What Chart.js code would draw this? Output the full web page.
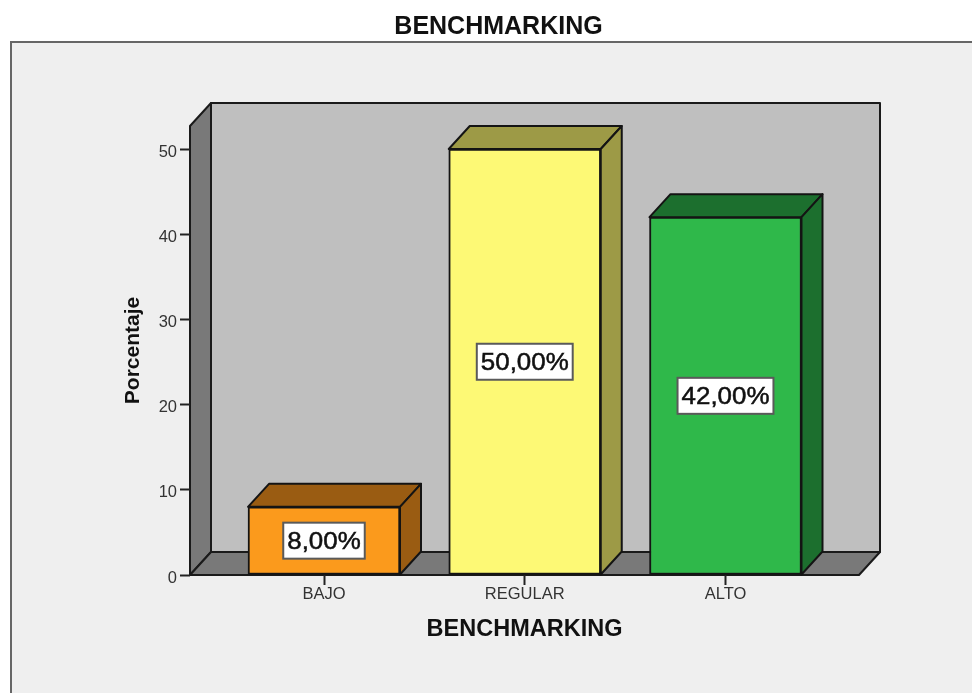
<!DOCTYPE html>
<html>
<head>
<meta charset="utf-8">
<title>BENCHMARKING</title>
<style>
  html, body { margin: 0; padding: 0; background: #fff; }
  #wrap { position: relative; width: 972px; height: 693px; }
</style>
<script src="https://cdn.jsdelivr.net/npm/chart.js@4"></script>
</head>
<body>
<div id="wrap"><canvas id="benchChart"></canvas></div>
<script>
const categorias = ['BAJO', 'REGULAR', 'ALTO'];
const porcentajes = [8, 50, 42];
const yTicks = [0, 10, 20, 30, 40, 50];
const coloresFrente = ['#fb9a1c', '#fdf975', '#2fb84a'];
const coloresLado = ['#9a5c12', '#9d9a46', '#1c6f2e'];

const FUENTE = '"Liberation Sans", Arial, sans-serif';
const PROF_X = 21;   // profundidad del efecto 3D
const PROF_Y = 23;

function poligono(ctx, puntos, relleno, borde, grosor) {
    ctx.beginPath();
    puntos.forEach((p, i) => i ? ctx.lineTo(p[0], p[1]) : ctx.moveTo(p[0], p[1]));
    ctx.closePath();
    ctx.fillStyle = relleno;
    ctx.fill();
    ctx.strokeStyle = borde;
    ctx.lineWidth = grosor;
    ctx.lineJoin = 'round';
    ctx.stroke();
}

const fondo3d = {
    id: 'fondo3d',
    beforeDraw(chart) {
        const { ctx, width, height } = chart;
        const { left, right, top, bottom } = chart.chartArea;
        ctx.save();
        // panel gris
        ctx.fillStyle = '#efefef';
        ctx.fillRect(11, 42, width - 11, height - 42);
        ctx.strokeStyle = '#666';
        ctx.lineWidth = 2;
        ctx.beginPath();
        ctx.moveTo(11, height);
        ctx.lineTo(11, 42);
        ctx.lineTo(width, 42);
        ctx.stroke();
        // pared del fondo, pared izquierda y piso
        const borde = '#1a1a1a';
        poligono(ctx, [[left + PROF_X, top - PROF_Y], [right + PROF_X, top - PROF_Y],
            [right + PROF_X, bottom - PROF_Y], [left + PROF_X, bottom - PROF_Y]], '#bfbfbf', borde, 2);
        poligono(ctx, [[left, top], [left + PROF_X, top - PROF_Y],
            [left + PROF_X, bottom - PROF_Y], [left, bottom]], '#797979', borde, 2);
        poligono(ctx, [[left, bottom], [left + PROF_X, bottom - PROF_Y],
            [right + PROF_X, bottom - PROF_Y], [right, bottom]], '#797979', borde, 2);
        ctx.restore();
    },
    beforeDatasetsDraw(chart) {
        const { ctx } = chart;
        const barras = chart.getDatasetMeta(0).data;
        ctx.save();
        barras.forEach((b, i) => {
            const x0 = b.x - b.width / 2;
            const x1 = b.x + b.width / 2;
            const color = coloresLado[i];
            poligono(ctx, [[x0, b.y], [x0 + PROF_X, b.y - PROF_Y], [x1 + PROF_X, b.y - PROF_Y], [x1, b.y]],
                color, '#141414', 2);
            poligono(ctx, [[x1, b.y], [x1 + PROF_X, b.y - PROF_Y], [x1 + PROF_X, b.base - PROF_Y], [x1, b.base]],
                color, '#141414', 2);
        });
        ctx.restore();
    },
    afterDatasetsDraw(chart) {
        const { ctx } = chart;
        const barras = chart.getDatasetMeta(0).data;
        ctx.save();
        barras.forEach((b, i) => {
            const texto = porcentajes[i].toFixed(2).replace('.', ',') + '%';
            const cy = (b.y + b.base) / 2;
            ctx.font = '24px ' + FUENTE;
            const ancho = ctx.measureText(texto).width * 1.08 + 8;
            ctx.fillStyle = '#fff';
            ctx.strokeStyle = '#5a5a5a';
            ctx.lineWidth = 2;
            ctx.fillRect(b.x - ancho / 2, cy - 18, ancho, 36);
            ctx.strokeRect(b.x - ancho / 2, cy - 18, ancho, 36);
            ctx.fillStyle = '#111';
            ctx.strokeStyle = '#111';
            ctx.lineWidth = 0.5;
            ctx.textAlign = 'center';
            ctx.textBaseline = 'middle';
            ctx.translate(b.x, cy + 2);
            ctx.scale(1.08, 1);
            ctx.fillText(texto, 0, 0);
            ctx.strokeText(texto, 0, 0);
            ctx.setTransform(1, 0, 0, 1, 0, 0);
        });
        ctx.restore();
    }
};

new Chart(document.getElementById('benchChart').getContext('2d'), {
    type: 'bar',
    data: {
        labels: categorias,
        datasets: [{
            data: porcentajes.map((v, i) => ({ x: i, y: v })),
            backgroundColor: coloresFrente,
            borderColor: '#141414',
            borderWidth: 2,
            borderSkipped: false,
            barThickness: 152
        }]
    },
    plugins: [fondo3d],
    options: {
        responsive: true,
        maintainAspectRatio: false,
        animation: false,
        devicePixelRatio: 1,
        layout: { padding: { top: 5, left: 138, right: 113, bottom: 30 } },
        plugins: {
            legend: { display: false },
            tooltip: { enabled: false },
            title: {
                display: true,
                text: 'BENCHMARKING',
                color: '#111',
                font: { family: FUENTE, size: 25, weight: 'bold' },
                padding: { top: 7, bottom: 84 }
            }
        },
        scales: {
            x: {
                type: 'linear',
                offset: false,
                min: -0.6675,
                max: 2.665,
                afterBuildTicks: (eje) => { eje.ticks = categorias.map((_, i) => ({ value: i })); },
                afterFit: (eje) => { eje.height = 88; },
                grid: { drawOnChartArea: false, offset: false, tickLength: 10, tickColor: '#222', tickWidth: 2 },
                border: { display: false },
                ticks: {
                    autoSkip: false,
                    maxRotation: 0,
                    padding: 0,
                    color: '#333',
                    font: { family: FUENTE, size: 16.5 },
                    callback: (v) => categorias[v]
                },
                title: {
                    display: true,
                    text: 'BENCHMARKING',
                    color: '#111',
                    font: { family: FUENTE, size: 23.5, weight: 'bold' },
                    padding: { top: 19, bottom: 19 }
                }
            },
            y: {
                min: 0,
                max: 52.7,
                afterBuildTicks: (eje) => { eje.ticks = yTicks.map((v) => ({ value: v })); },
                afterFit: (eje) => { eje.width = 52; },
                grid: { drawOnChartArea: false, tickLength: 10, tickColor: '#222', tickWidth: 2 },
                border: { display: false },
                ticks: {
                    padding: 3,
                    labelOffset: 3,
                    color: '#333',
                    font: { family: FUENTE, size: 16.5 }
                },
                title: {
                    display: true,
                    text: 'Porcentaje',
                    color: '#111',
                    font: { family: FUENTE, size: 21, weight: 'bold' },
                    padding: { top: -17, bottom: 0 }
                }
            }
        }
    }
});
</script>
</body>
</html>
